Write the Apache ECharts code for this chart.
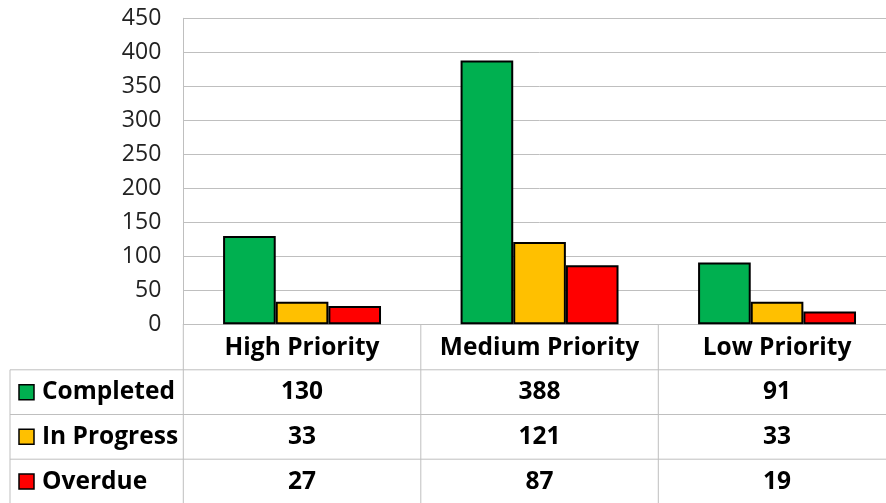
<!DOCTYPE html>
<html><head><meta charset="utf-8">
<script src="https://cdn.jsdelivr.net/npm/echarts@6/dist/echarts.min.js"></script>
<style>html,body{margin:0;padding:0;background:#fff;overflow:hidden;width:886px;height:503px}#c{width:896px;height:503px}</style>
</head><body><div id="c"></div>
<script>
var categories = ['High Priority', 'Medium Priority', 'Low Priority'];
var completed = [130, 388, 91];
var inProgress = [33, 121, 33];
var overdue = [27, 87, 19];
var seriesNames = ['Completed', 'In Progress', 'Overdue'];
var colors = ['#00B050', '#FFC000', '#FF0000'];
var yTicks = {min: 0, max: 450, interval: 50};

var FONT = '"Open Sans", sans-serif';
var FS = 24.5;
var ROW = 44.7;
var allSeries = [completed, inProgress, overdue];
var chart = echarts.init(document.getElementById('c'), null, {renderer: 'canvas', width: 896, height: 503});

var option = {
  animation: false,
  grid: {left: 183.3, top: 18.3, width: 712.5, height: 306, containLabel: false, outerBoundsMode: 'none'},
  xAxis: {
    type: 'category', data: categories,
    axisLine: {show: true, lineStyle: {color: '#BFBFBF', width: 1}},
    axisTick: {show: false},
    axisLabel: {
      interval: 0, margin: 1,
      formatter: function (v, i) {
        var s = '{h|' + v + '}';
        for (var k = 0; k < allSeries.length; k++) s += '\n{v|' + allSeries[k][i] + '}';
        return s;
      },
      rich: {
        h: {fontFamily: FONT, fontWeight: 'bold', fontSize: FS, color: '#000', lineHeight: ROW},
        v: {fontFamily: FONT, fontWeight: 'bold', fontSize: FS, color: '#000', lineHeight: ROW}
      }
    }
  },
  yAxis: {
    type: 'value', min: yTicks.min, max: yTicks.max, interval: yTicks.interval,
    axisLine: {show: true, lineStyle: {color: '#BFBFBF', width: 1}},
    axisTick: {show: false},
    axisLabel: {fontFamily: FONT, fontSize: 23, color: '#222', margin: 22},
    splitLine: {lineStyle: {color: '#BFBFBF', width: 1}}
  },
  series: seriesNames.map(function (n, k) {
    return {
      name: n, type: 'bar', data: allSeries[k],
      barGap: '0%', barCategoryGap: '33.5%',
      itemStyle: {color: colors[k], borderColor: '#000', borderWidth: 2}
    };
  })
};
chart.setOption(option);

// table lines & legend column
var y0 = chart.convertToPixel({yAxisIndex: 0}, 0);
var c0 = chart.convertToPixel({xAxisIndex: 0}, 0);
var c1 = chart.convertToPixel({xAxisIndex: 0}, 1);
var band = c1 - c0;
var g = [];
var lc = '#BFBFBF';
var H = 503;
for (var i = 0; i <= categories.length; i++) {
  var x = c0 - band / 2 + i * band;
  g.push({type: 'line', shape: {x1: x, y1: y0, x2: x, y2: H}, style: {stroke: lc, lineWidth: 1}, z: 10});
}
var tableTop = y0 + 45.5;
g.push({type: 'line', shape: {x1: 10, y1: tableTop, x2: 10, y2: H}, style: {stroke: lc, lineWidth: 1}, z: 10});
for (var r = 0; r < seriesNames.length; r++) {
  var yl = tableTop + r * ROW;
  g.push({type: 'line', shape: {x1: 10, y1: yl, x2: 896, y2: yl}, style: {stroke: lc, lineWidth: 1}, z: 10});
  var cy = yl + ROW / 2;
  g.push({type: 'rect', shape: {x: 19, y: cy - 7.5, width: 15, height: 15},
    style: {fill: colors[r], stroke: '#000', lineWidth: 1.5}, z: 10});
  g.push({type: 'text', x: 42, y: cy, style: {text: seriesNames[r], fontFamily: FONT, fontWeight: 'bold',
    fontSize: FS, fill: '#000', textVerticalAlign: 'middle', verticalAlign: 'middle'}, z: 10});
}
chart.setOption({graphic: g});
</script></body></html>
